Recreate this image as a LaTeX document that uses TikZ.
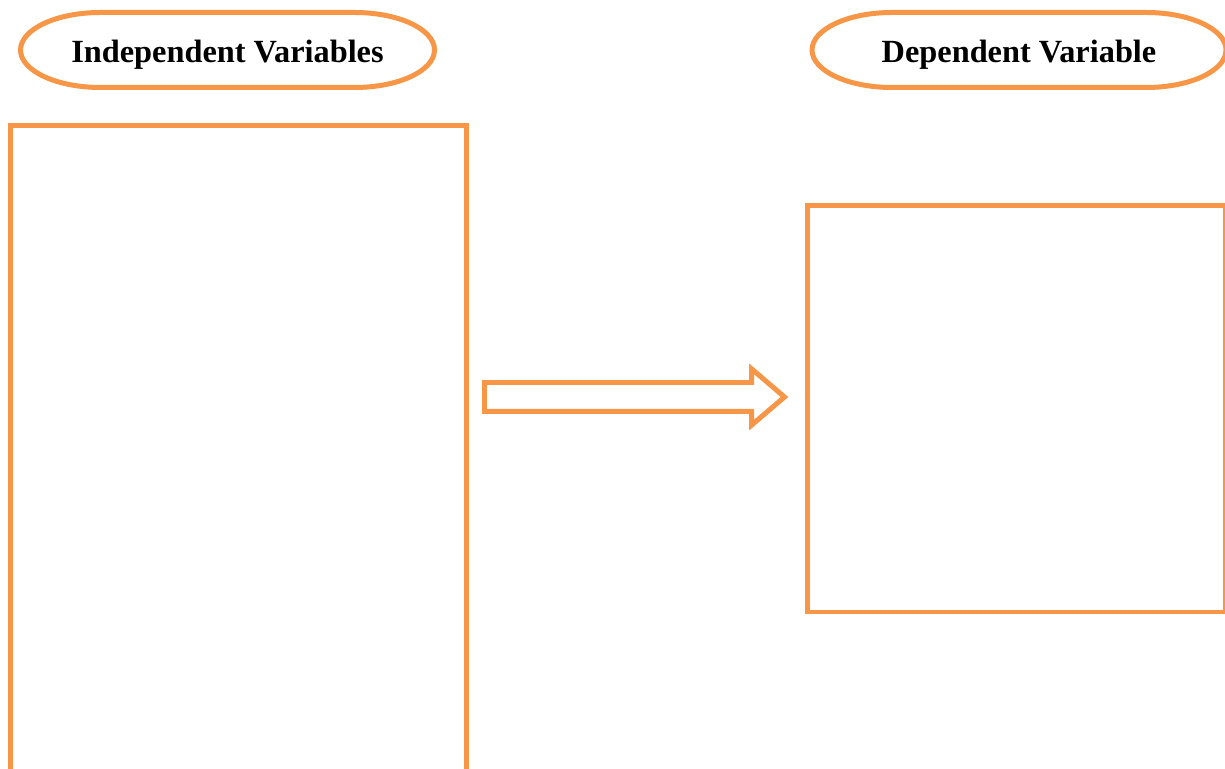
\documentclass[tikz,border=0pt]{standalone}
\usepackage{fontspec}
\setmainfont{Liberation Serif}
\usetikzlibrary{shapes,arrows,calc,positioning}
\definecolor{accentorange}{HTML}{F79646}
\tikzstyle{pill} = [rectangle, outer sep=0pt, minimum width=4.14cm, minimum height=0.75cm, text centered, text height=9.3pt, text depth=1.9pt, font=\fontsize{9.2}{11}\selectfont\bfseries]
\tikzstyle{pillline} = [draw=accentorange, line width=1.42pt]
\tikzstyle{box} = [draw=accentorange, line width=1.42pt, rectangle]
\tikzstyle{bigarrow} = [draw=accentorange, line width=1.42pt, single arrow, single arrow head extend=0.135cm, single arrow tip angle=81, inner xsep=0pt, inner ysep=0.12cm, minimum height=3.0cm]

\begin{document}
\begin{tikzpicture}
        \useasboundingbox (0,0) rectangle (12.25,7.68);
        \clip (0,0) rectangle (12.25,7.68);
        \node[pill] (indep) at (2.275,7.18) {Independent Variables};
        \node[pill] (dep) at (10.19,7.18) {Dependent Variable};
        \foreach \n in {indep,dep}
            \draw[pillline] ($(\n.north west)+(0.8,0)$) -- ($(\n.north east)+(-0.8,0)$)
                arc[start angle=90, end angle=-90, x radius=0.8, y radius=0.375]
                -- ($(\n.south west)+(0.8,0)$)
                arc[start angle=270, end angle=90, x radius=0.8, y radius=0.375] -- cycle;
        \node[box, minimum width=4.56cm, minimum height=6.925cm] (indepbox) at (2.385,2.9625) {};
        \node[box, minimum width=4.18cm, minimum height=4.065cm] (depbox) at (10.165,3.5925) {};
        \node[bigarrow] (link) at (6.26,3.71) {};
    \end{tikzpicture}
\end{document}
